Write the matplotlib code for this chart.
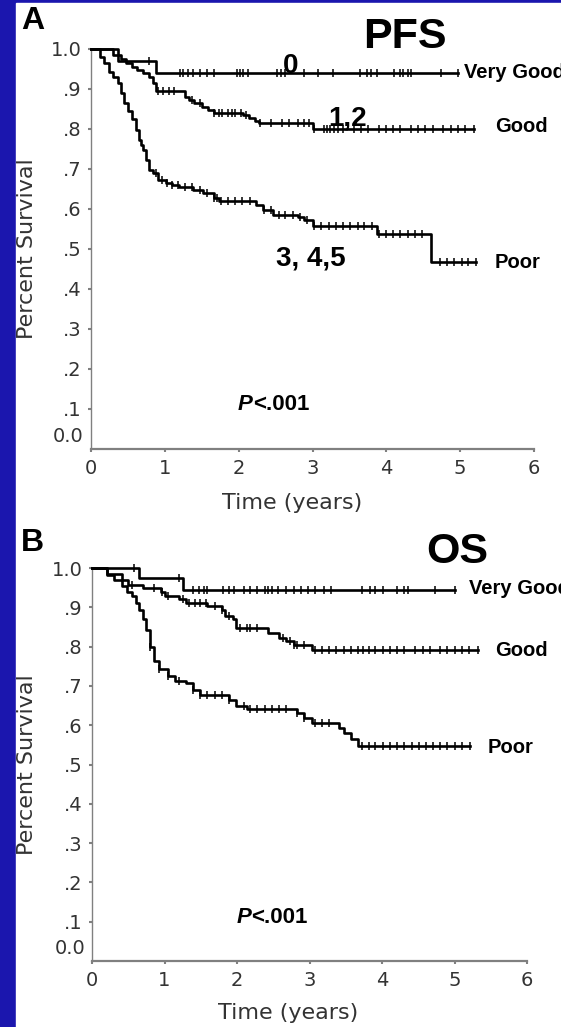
import matplotlib
matplotlib.use('Agg')
import matplotlib.pyplot as plt
from matplotlib.patches import Rectangle
import numpy as np

# ---- PFS (panel A) ----
pfs_vg_t = [0, 0.36, 0.88]
pfs_vg_s = [1.0, 0.97, 0.94]
pfs_vg_end = 4.97
pfs_vg_cens = [0.79, 1.21, 1.25, 1.32, 1.38, 1.48, 1.57, 1.66, 1.98, 2.02, 2.06, 2.12,
               2.52, 2.58, 2.63, 2.88, 3.07, 3.28, 3.65, 3.74, 3.79, 3.88, 4.10, 4.19,
               4.23, 4.29, 4.33, 4.74, 4.97]

pfs_good_t = [0, 0.30, 0.40, 0.48, 0.55, 0.62, 0.70, 0.78, 0.84, 0.88, 1.27, 1.33, 1.40,
              1.50, 1.58, 1.66, 2.06, 2.14, 2.22, 2.28, 3.01]
pfs_good_s = [1.0, 0.985, 0.975, 0.965, 0.955, 0.948, 0.94, 0.93, 0.915, 0.895, 0.88, 0.872,
              0.865, 0.855, 0.848, 0.84, 0.835, 0.828, 0.82, 0.815, 0.80]
pfs_good_end = 5.19
pfs_good_cens = [0.91, 0.98, 1.05, 1.13, 1.37, 1.47, 1.66, 1.74, 1.78, 1.86, 1.91, 1.95,
                 2.03, 2.10, 2.29, 2.44, 2.59, 2.68, 2.81, 2.88, 2.95, 3.02, 3.15, 3.19,
                 3.24, 3.29, 3.34, 3.41, 3.56, 3.66, 3.75, 3.90, 4.00, 4.09, 4.19, 4.34,
                 4.43, 4.53, 4.63, 4.77, 4.87, 4.97, 5.07, 5.19]

pfs_poor_t = [0, 0.12, 0.18, 0.24, 0.30, 0.37, 0.40, 0.45, 0.50, 0.55, 0.61, 0.65, 0.68,
              0.71, 0.74, 0.79, 0.84, 0.91, 1.02, 1.10, 1.19, 1.38, 1.52, 1.66, 1.74, 2.24,
              2.33, 2.47, 2.80, 2.88, 3.01, 3.88, 4.60]
pfs_poor_s = [1.0, 0.98, 0.965, 0.943, 0.93, 0.915, 0.89, 0.865, 0.845, 0.825, 0.798, 0.773,
              0.76, 0.748, 0.723, 0.698, 0.69, 0.673, 0.665, 0.66, 0.655, 0.648, 0.64, 0.628,
              0.62, 0.61, 0.598, 0.585, 0.58, 0.573, 0.557, 0.537, 0.467]
pfs_poor_end = 5.22
pfs_poor_cens = [0.88, 0.96, 1.03, 1.10, 1.18, 1.27, 1.37, 1.47, 1.57, 1.66, 1.71, 1.76,
                 1.86, 1.95, 2.05, 2.15, 2.34, 2.44, 2.54, 2.63, 2.73, 2.83, 2.93, 3.02,
                 3.12, 3.22, 3.32, 3.41, 3.51, 3.61, 3.70, 3.80, 3.90, 4.00, 4.09, 4.19,
                 4.29, 4.39, 4.48, 4.73, 4.82, 4.92, 5.02, 5.11, 5.22]

# ---- OS (panel B) ----
os_vg_t = [0, 0.65, 1.25]
os_vg_s = [1.0, 0.975, 0.945]
os_vg_end = 5.0
os_vg_cens = [0.58, 1.20, 1.39, 1.47, 1.54, 1.59, 1.81, 1.89, 1.96, 2.09, 2.18, 2.28, 2.38,
              2.43, 2.48, 2.56, 2.68, 2.78, 2.88, 2.98, 3.07, 3.20, 3.30, 3.72, 3.84, 3.91,
              4.01, 4.21, 4.31, 4.36, 4.73, 5.0]

os_good_t = [0, 0.21, 0.41, 0.50, 0.70, 0.95, 1.00, 1.20, 1.30, 1.59, 1.79, 1.84, 1.94,
             1.99, 2.43, 2.58, 2.68, 2.78, 3.03]
os_good_s = [1.0, 0.985, 0.97, 0.958, 0.949, 0.94, 0.928, 0.92, 0.911, 0.903, 0.894, 0.877,
             0.869, 0.847, 0.835, 0.822, 0.814, 0.805, 0.792]
os_good_end = 5.32
os_good_cens = [0.55, 0.85, 0.97, 1.05, 1.25, 1.34, 1.42, 1.49, 1.57, 1.69, 1.79, 1.89,
                2.04, 2.14, 2.18, 2.28, 2.63, 2.73, 2.78, 2.83, 2.93, 3.07, 3.17, 3.27,
                3.37, 3.47, 3.57, 3.67, 3.74, 3.82, 3.91, 4.01, 4.11, 4.21, 4.31, 4.46,
                4.56, 4.66, 4.80, 4.90, 5.00, 5.10, 5.20, 5.32]

os_poor_t = [0, 0.21, 0.30, 0.41, 0.48, 0.55, 0.60, 0.65, 0.70, 0.75, 0.80, 0.85, 0.92,
             1.05, 1.15, 1.30, 1.39, 1.49, 1.89, 1.99, 2.14, 2.83, 2.92, 3.03, 3.40, 3.47,
             3.57, 3.67]
os_poor_s = [1.0, 0.983, 0.97, 0.953, 0.94, 0.928, 0.91, 0.894, 0.87, 0.843, 0.80, 0.763,
             0.742, 0.725, 0.712, 0.708, 0.69, 0.678, 0.665, 0.648, 0.64, 0.631, 0.619, 0.606,
             0.593, 0.58, 0.564, 0.547]
os_poor_end = 5.22
os_poor_cens = [0.80, 0.92, 1.05, 1.20, 1.39, 1.49, 1.59, 1.69, 1.79, 1.89, 2.09, 2.18,
                2.28, 2.38, 2.48, 2.58, 2.68, 2.83, 2.93, 3.07, 3.17, 3.27, 3.72, 3.82,
                3.91, 4.01, 4.11, 4.21, 4.31, 4.41, 4.51, 4.61, 4.71, 4.80, 4.90, 5.00,
                5.10, 5.22]

y_ticks = [0.1, 0.2, 0.3, 0.4, 0.5, 0.6, 0.7, 0.8, 0.9, 1.0]
y_ticklabels = ['.1', '.2', '.3', '.4', '.5', '.6', '.7', '.8', '.9', '1.0']
x_ticks = [0, 1, 2, 3, 4, 5, 6]

BLUE = '#1b16ae'
GRAY = '#808080'
TXT = '#333333'
BOLD = dict(family='Liberation Sans', weight='bold', color='black')


def km(ax, t, s, end, cens):
    tt = np.append(t, end)
    ss = np.append(s, s[-1])
    ax.step(tt, ss, where='post', color='black', lw=1.9, clip_on=False, zorder=3)
    idx = np.searchsorted(t, cens, side='right') - 1
    cy = np.asarray(s)[idx]
    ax.plot(cens, cy, ls='none', marker='|', ms=6, mew=1.1, color='black',
            clip_on=False, zorder=3)


def setup(ax):
    ax.set_facecolor('white')
    ax.set_xlim(0, 6)
    ax.set_ylim(0, 1.0)
    for sp in ['top', 'right']:
        ax.spines[sp].set_visible(False)
    ax.spines['left'].set_color(GRAY)
    ax.spines['left'].set_linewidth(1.0)
    ax.spines['bottom'].set_color(GRAY)
    ax.spines['bottom'].set_linewidth(1.6)
    ax.set_yticks(y_ticks)
    ax.set_yticklabels(y_ticklabels)
    ax.set_xticks(x_ticks)
    ax.tick_params(axis='both', direction='out', length=2.5, width=1.5, color=GRAY,
                   labelcolor=TXT, labelsize=14)
    ax.tick_params(axis='y', pad=4)
    ax.tick_params(axis='x', pad=5)
    ax.annotate('0.0', xy=(0, 0), xycoords=('axes fraction', 'data'), xytext=(-7, 12),
                textcoords='offset pixels', ha='right', va='center', fontsize=14, color=TXT)


fig = plt.figure(figsize=(5.61, 10.27), dpi=100)
fig.patch.set_facecolor(BLUE)
fig.add_artist(Rectangle((16 / 561, 0), (561 - 16) / 561, 1 - 3 / 1027,
                         transform=fig.transFigure, color='white', zorder=-5))

axA = fig.add_axes([91 / 561, 1 - 449 / 1027, 443 / 561, 400 / 1027])
axB = fig.add_axes([92 / 561, 1 - 961 / 1027, 435 / 561, 393 / 1027])
setup(axA)
setup(axB)

km(axA, pfs_vg_t, pfs_vg_s, pfs_vg_end, pfs_vg_cens)
km(axA, pfs_good_t, pfs_good_s, pfs_good_end, pfs_good_cens)
km(axA, pfs_poor_t, pfs_poor_s, pfs_poor_end, pfs_poor_cens)

km(axB, os_vg_t, os_vg_s, os_vg_end, os_vg_cens)
km(axB, os_good_t, os_good_s, os_good_end, os_good_cens)
km(axB, os_poor_t, os_poor_s, os_poor_end, os_poor_cens)

# right-hand group labels
axA.text(5.05, 0.94, 'Very Good', fontsize=14.5, va='center', ha='left', clip_on=False, **BOLD)
axA.text(5.48, 0.805, 'Good', fontsize=14.5, va='center', ha='left', clip_on=False, **BOLD)
axA.text(5.47, 0.467, 'Poor', fontsize=14.5, va='center', ha='left', clip_on=False, **BOLD)
axB.text(5.2, 0.949, 'Very Good', fontsize=14.5, va='center', ha='left', clip_on=False, **BOLD)
axB.text(5.56, 0.79, 'Good', fontsize=14.5, va='center', ha='left', clip_on=False, **BOLD)
axB.text(5.46, 0.542, 'Poor', fontsize=14.5, va='center', ha='left', clip_on=False, **BOLD)

# risk score labels
axA.text(2.71, 0.94, '0', fontsize=20, ha='center', va='baseline', **BOLD)
axA.text(3.47, 0.81, '1,2', fontsize=20, ha='center', va='baseline', **BOLD)
axA.text(2.98, 0.46, '3, 4,5', fontsize=20, ha='center', va='baseline', **BOLD)

# p-values
for ax in (axA, axB):
    p = ax.text(1.99, 0.085, 'P', fontsize=16, style='italic', ha='left', va='bottom', **BOLD)
    ax.annotate('<.001', xy=(1, 0), xycoords=p, ha='left', va='bottom', fontsize=16, **BOLD)

# axis labels
for yc in (249, 765):
    fig.text(27 / 561, 1 - yc / 1027, 'Percent Survival', rotation=90, ha='center',
             va='center', fontsize=16, color=TXT)
fig.text(292 / 561, 1 - 503 / 1027, 'Time (years)', ha='center', va='center',
         fontsize=16, color=TXT)
fig.text(288 / 561, 1 - 1013 / 1027, 'Time (years)', ha='center', va='center',
         fontsize=16, color=TXT)

# panel letters and titles
fig.text(21 / 561, 1 - 21 / 1027, 'A', fontsize=23, ha='left', va='center', **BOLD)
fig.text(21 / 561, 1 - 543 / 1027, 'B', fontsize=23, ha='left', va='center', **BOLD)
fig.text(405 / 561, 1 - 37 / 1027, 'PFS', fontsize=31, ha='center', va='center', **BOLD)
fig.text(457 / 561, 1 - 552 / 1027, 'OS', fontsize=31, ha='center', va='center', **BOLD)

fig.savefig('out.png', dpi=100, facecolor=fig.get_facecolor())
